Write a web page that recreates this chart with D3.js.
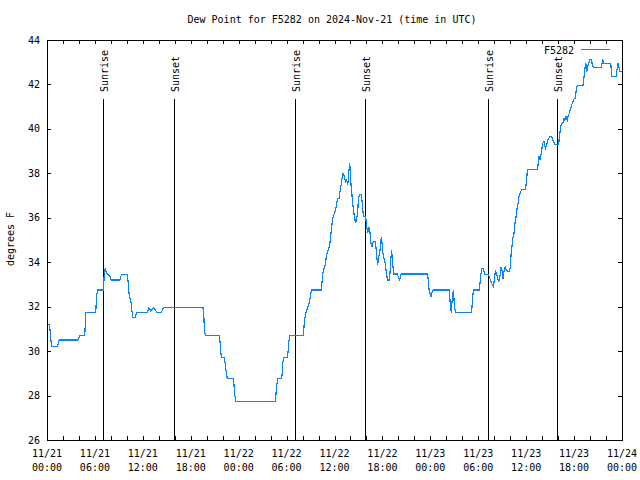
<!DOCTYPE html>
<html>
<head>
<meta charset="utf-8">
<script src="https://cdn.jsdelivr.net/npm/d3@7"></script>
<style>
  html, body { margin: 0; padding: 0; background: #fff; }
  svg { display: block; font-family: "DejaVu Sans Mono", monospace; font-size: 10px; }
</style>
</head>
<body>
<svg id="chart" width="640" height="480"></svg>
<script>
// ---- data (hours since 2024-11-21 00:00 UTC, dew point in F) ----
const hours = [0,0.29,0.38,0.50,0.63,1.29,1.41,1.54,3.84,4.01,4.13,4.72,4.76,4.88,6.10,6.22,6.35,7.05,7.10,7.18,7.30,7.39,7.48,7.68,7.89,8.05,9.14,9.23,9.35,10.06,10.14,10.23,10.31,10.52,10.64,10.77,11.02,11.14,11.27,12.56,12.68,12.77,12.99,13.31,13.56,13.74,14.36,14.44,14.56,19.53,19.62,19.70,19.82,21.58,21.66,21.75,21.88,22.20,22.29,22.38,22.58,23.33,23.42,23.50,23.63,28.59,28.68,28.76,28.89,29.34,29.43,29.52,29.64,30.09,30.18,30.27,30.39,32.09,32.18,32.27,32.43,32.52,32.77,32.93,33.02,33.15,34.35,34.40,34.52,34.69,34.85,34.98,35.10,35.35,35.48,35.65,35.78,35.94,36.15,36.28,36.40,36.57,36.69,36.82,36.98,37.10,37.23,37.40,37.53,37.65,37.73,37.82,37.90,37.98,38.07,38.19,38.28,38.40,38.53,38.65,38.78,38.91,38.98,39.11,39.36,39.44,39.53,39.66,39.86,39.95,40.03,40.16,40.23,40.36,40.45,40.53,40.66,40.78,40.91,41.11,41.23,41.32,41.41,41.48,41.70,41.79,41.86,41.95,42.03,42.16,42.32,42.45,42.54,42.61,42.86,42.95,43.04,43.16,43.24,43.33,43.45,43.86,44.08,44.17,44.24,44.37,47.62,47.75,47.83,47.96,48.08,48.21,48.37,50.38,50.46,50.55,50.63,50.71,50.88,50.97,51.05,51.18,53.13,53.22,53.31,53.43,54.13,54.22,54.31,54.43,54.60,54.72,54.85,55.26,55.39,55.51,55.69,55.89,56.01,56.10,56.14,56.31,56.56,56.73,56.85,56.98,57.10,57.19,57.39,57.48,57.64,57.94,58.02,58.10,58.23,58.32,58.48,58.60,58.77,58.89,59.02,59.10,59.27,59.44,59.94,59.98,60.07,60.14,61.40,61.48,61.61,61.73,61.82,61.90,62.07,62.24,62.40,62.57,62.70,62.99,63.20,63.32,63.61,64.08,64.15,64.28,64.40,64.58,64.74,64.83,64.99,65.15,65.28,65.40,65.58,65.74,65.95,66.15,66.24,66.41,67.12,67.21,67.33,67.46,67.53,67.58,67.71,67.83,67.96,68.16,68.25,68.41,69.41,69.50,69.59,69.66,70.59,70.66,70.75,71.25,71.34,71.50,71.59,71.75,71.97];
const dewF = [31.2,31.2,30.95,30.45,30.2,30.2,30.35,30.5,30.5,30.6,30.7,30.7,30.95,31.75,31.75,32.5,32.75,32.75,33.0,33.5,33.75,33.6,33.5,33.45,33.35,33.2,33.2,33.35,33.45,33.45,33.2,32.75,32.5,32.2,31.8,31.5,31.5,31.65,31.75,31.75,31.85,31.95,31.8,31.95,31.85,31.75,31.75,31.85,31.95,31.95,31.7,31.05,30.7,30.7,30.45,29.95,29.7,29.7,29.5,29.2,28.75,28.75,28.45,28.05,27.75,27.75,28.1,28.45,28.75,28.75,28.9,29.45,29.7,29.7,29.95,30.4,30.7,30.7,31.1,31.45,31.75,31.85,32.1,32.35,32.6,32.75,32.75,32.95,33.45,33.73,33.9,34.25,34.45,34.7,35.0,35.6,35.95,36.17,36.38,36.68,36.88,36.88,37.17,37.47,37.85,38.03,37.85,37.62,37.7,37.47,37.77,38.17,38.45,38.07,37.47,37.02,36.65,36.27,35.97,35.75,35.97,36.27,36.8,37.05,37.05,36.8,36.35,36.05,36.05,35.9,35.6,35.3,35.45,35.6,35.33,34.92,34.67,34.85,34.92,34.92,34.55,34.17,33.9,34.1,34.55,34.87,35.15,34.87,34.47,34.2,34.0,33.65,33.45,33.2,33.2,33.5,34.1,34.55,34.1,33.77,33.47,33.47,33.27,33.2,33.35,33.47,33.47,33.2,32.8,32.6,32.45,32.63,32.75,32.75,32.3,31.9,31.73,32.2,32.75,32.3,31.95,31.73,31.73,32.0,32.5,32.75,32.75,33.05,33.4,33.73,33.73,33.58,33.45,33.45,33.35,33.2,33.05,32.9,33.2,33.45,33.65,33.45,33.1,33.4,33.77,33.65,33.25,33.55,33.83,33.68,33.6,33.6,33.85,34.3,34.73,35.05,35.3,35.75,36.13,36.5,36.72,36.95,37.13,37.28,37.28,37.5,37.7,38.18,38.18,38.37,38.77,38.6,38.75,38.93,39.35,39.42,39.12,39.27,39.5,39.65,39.65,39.5,39.3,39.3,39.65,39.95,40.25,40.25,40.47,40.4,40.58,40.4,40.62,40.7,40.92,41.12,41.33,41.38,41.67,41.97,41.97,42.2,42.65,42.95,42.88,42.58,42.8,42.95,43.13,43.13,42.95,42.75,42.75,42.95,43.13,42.95,42.95,42.65,42.35,42.35,42.58,42.95,42.8,42.58,42.58];

const sunLabels = ["Sunrise","Sunset","Sunrise","Sunset","Sunrise","Sunset"];
const sunHours = [7.05,15.94,31.09,39.86,55.18,63.90];

const xTickHours = [0,6,12,18,24,30,36,42,48,54,60,66,72];
const xDateLabels = ["11/21","11/21","11/21","11/21","11/22","11/22","11/22","11/22","11/23","11/23","11/23","11/23","11/24"];
const xTimeLabels = ["00:00","06:00","12:00","18:00","00:00","06:00","12:00","18:00","00:00","06:00","12:00","18:00","00:00"];
const xMinorHours = d3.range(0, 73, 2);
const yTicks = [26,28,30,32,34,36,38,40,42,44];

const titleText = "Dew Point for F5282 on 2024-Nov-21 (time in UTC)";
const yLabelText = "degrees F";
const seriesName = "F5282";

// ---- layout ----
const L = 47, R = 622, T = 40, B = 440;
const svg = d3.select("#chart");
const x = d3.scaleLinear().domain([0, 72]).range([L, R]);
const y = d3.scaleLinear().domain([26, 44]).range([B, T]);
const lineColor = "#0a84ff";

// ticks (inward on all sides)
const tickLen = 4;
const axisG = svg.append("g").attr("shape-rendering", "crispEdges").attr("stroke", "#000");
axisG.append("g").attr("transform", `translate(0,${B})`)
  .call(d3.axisTop(x).tickValues(xMinorHours).tickSize(tickLen).tickFormat(""))
  .call(g => g.select(".domain").remove());
axisG.append("g").attr("transform", `translate(0,${T})`)
  .call(d3.axisBottom(x).tickValues(xMinorHours).tickSize(tickLen).tickFormat(""))
  .call(g => g.select(".domain").remove());
axisG.append("g").attr("transform", `translate(${L},0)`)
  .call(d3.axisRight(y).tickValues(yTicks).tickSize(tickLen).tickFormat(""))
  .call(g => g.select(".domain").remove());
axisG.append("g").attr("transform", `translate(${R},0)`)
  .call(d3.axisLeft(y).tickValues(yTicks).tickSize(tickLen).tickFormat(""))
  .call(g => g.select(".domain").remove());

// y tick labels
svg.append("g").selectAll("text").data(yTicks).join("text")
  .attr("x", L - 7).attr("y", d => y(d)).attr("dy", "0.35em")
  .attr("text-anchor", "end").text(d => d);

// x tick labels (two lines)
const xl = svg.append("g").selectAll("text").data(xTickHours).join("text")
  .attr("text-anchor", "middle");
xl.append("tspan").attr("x", d => x(d)).attr("y", 457).text((d, i) => xDateLabels[i]);
xl.append("tspan").attr("x", d => x(d)).attr("y", 471).text((d, i) => xTimeLabels[i]);

// sunrise / sunset lines
const sun = svg.append("g");
sun.selectAll("line").data(sunHours).join("line")
  .attr("x1", d => Math.round(x(d)) + 0.5).attr("x2", d => Math.round(x(d)) + 0.5)
  .attr("y1", 99).attr("y2", B)
  .attr("stroke", "#000").attr("stroke-width", 1).attr("shape-rendering", "crispEdges");
sun.selectAll("text").data(sunHours).join("text")
  .attr("transform", d => `translate(${Math.round(x(d)) + 5},92) rotate(-90)`)
  .attr("text-anchor", "start")
  .text((d, i) => sunLabels[i]);

// data line
const line = d3.line().x((d, i) => x(hours[i])).y(d => y(d));
svg.append("path").datum(dewF)
  .attr("d", line)
  .attr("fill", "none").attr("stroke", lineColor).attr("stroke-width", 1.2)
  .attr("shape-rendering", "crispEdges")
  .attr("stroke-linejoin", "miter");

// frame
svg.append("rect").attr("x", L + 0.5).attr("y", T + 0.5)
  .attr("width", R - L).attr("height", B - T)
  .attr("fill", "none").attr("stroke", "#000").attr("shape-rendering", "crispEdges");

// title
svg.append("text").attr("x", 332).attr("y", 23).attr("text-anchor", "middle").text(titleText);

// y label
svg.append("text").attr("transform", "translate(14,239) rotate(-90)")
  .attr("text-anchor", "middle").text(yLabelText);

// legend
svg.append("text").attr("x", 574).attr("y", 53.5).attr("text-anchor", "end").text(seriesName);
svg.append("line").attr("x1", 581).attr("x2", 610).attr("y1", 49.5).attr("y2", 49.5)
  .attr("stroke", lineColor).attr("stroke-width", 1).attr("shape-rendering", "crispEdges");
</script>
</body>
</html>
